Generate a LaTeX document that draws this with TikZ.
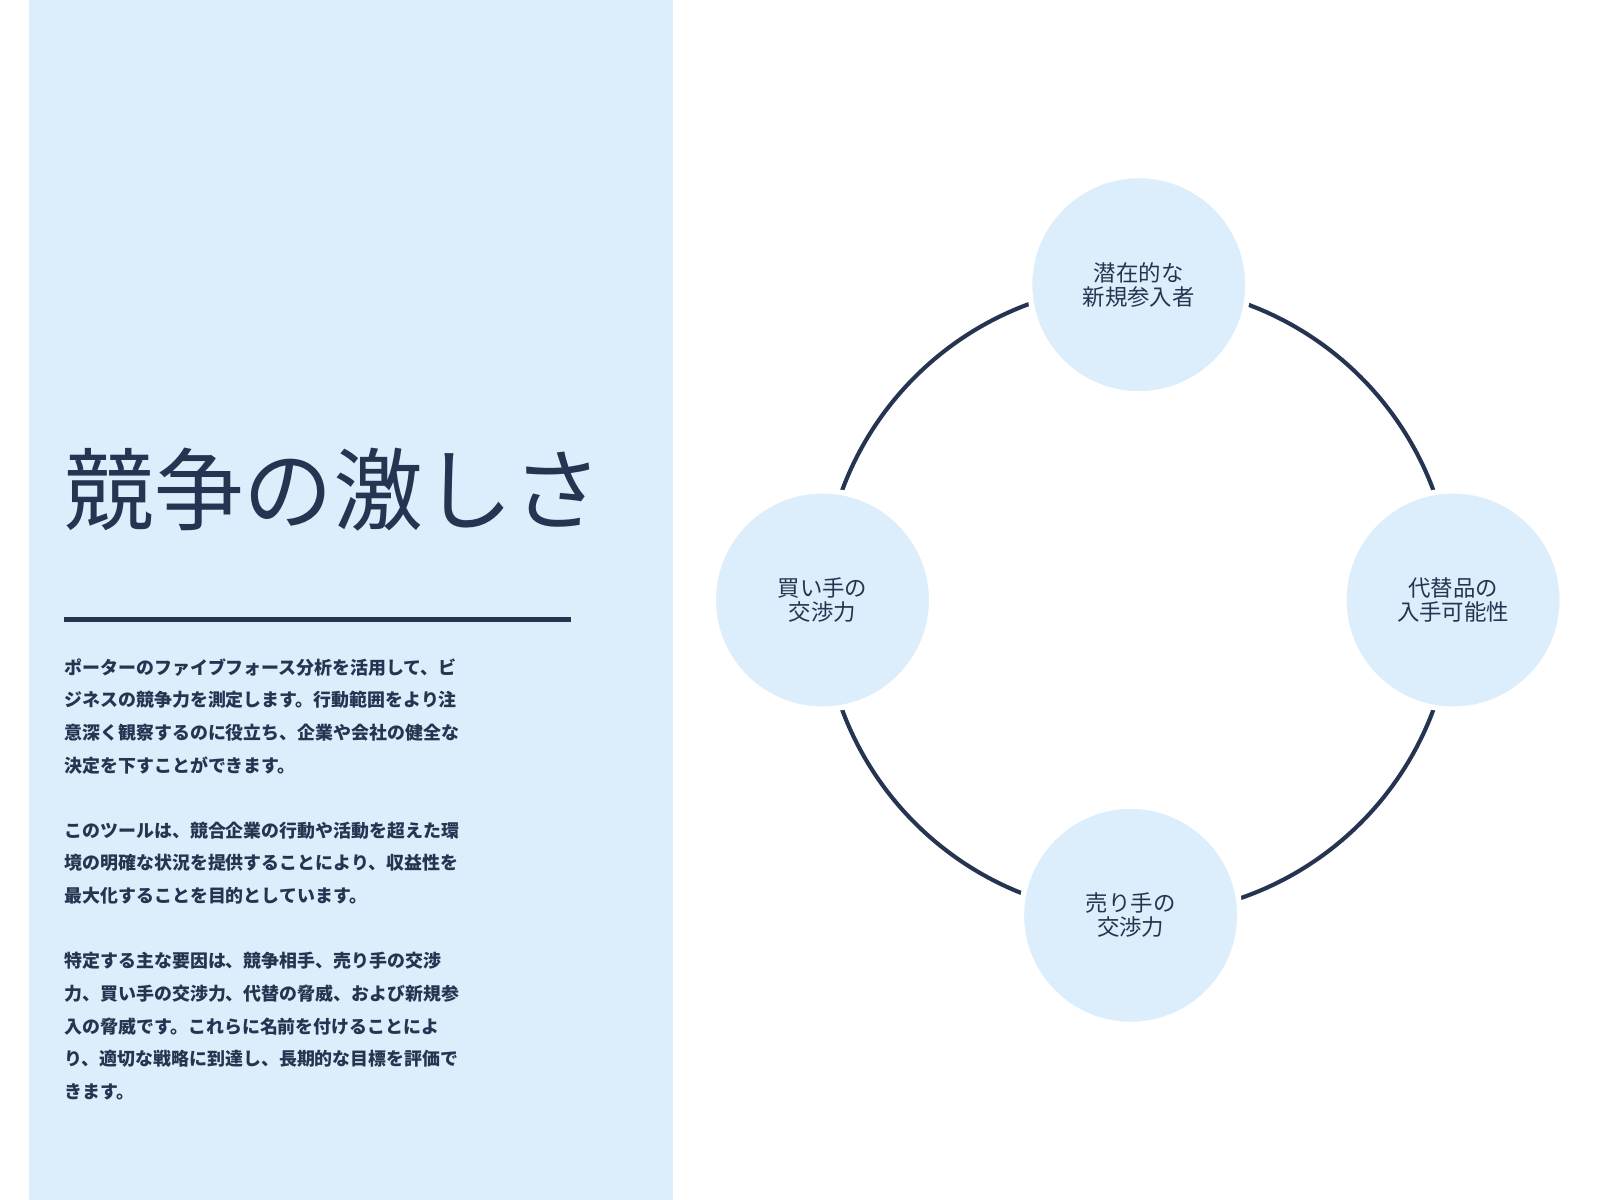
\documentclass[tikz,border=0pt]{standalone}
\usepackage{fontspec}
\setmainfont{Noto Sans CJK JP}
\usepackage{xcolor}
\definecolor{navy}{HTML}{253551}
\definecolor{paleblue}{HTML}{DCEEFB}
\begin{document}
\begin{tikzpicture}[x=0.02cm,y=-0.02cm,
    force/.style={circle,fill=paleblue,draw=white,line width=3pt,minimum size=4.28cm,
      inner sep=0pt,align=center,text=navy,font=\fontsize{12.5}{13.5}\selectfont},
    body/.style={anchor=north west,align=left,text=navy,inner sep=0pt,
      font=\bfseries\fontsize{10}{18.2}\selectfont}]
    \useasboundingbox (0,0) rectangle (1568,1176);
    \fill [paleblue] (28,0) rectangle (660,1176);

    \path (63,480) node [anchor=west,inner sep=0pt,text=navy,
      font=\fontsize{50}{50}\selectfont] (title) {競争の激しさ};
    \draw [navy,line width=2.6pt] (63,607) -- (560,607);

    \path (63,645) node [body] (p1) {ポーターのファイブフォース分析を活用して、ビ\\
      ジネスの競争力を測定します。行動範囲をより注\\
      意深く観察するのに役立ち、企業や会社の健全な\\
      決定を下すことができます。};
    \path (63,805) node [body] (p2) {このツールは、競合企業の行動や活動を超えた環\\
      境の明確な状況を提供することにより、収益性を\\
      最大化することを目的としています。};
    \path (63,933) node [body] (p3) {特定する主な要因は、競争相手、売り手の交渉\\
      力、買い手の交渉力、代替の脅威、および新規参\\
      入の脅威です。これらに名前を付けることによ\\
      り、適切な戦略に到達し、長期的な目標を評価で\\
      きます。};

    % ring of forces
    \draw [navy,line width=2.3pt] (1115,588) circle [radius=6.18cm];
    \path (1116,279) node [force] (entry) {潜在的な\\新規参入者};
    \path (806,588) node [force] (buyer) {買い手の\\交渉力};
    \path (1424,588) node [force] (subst) {代替品の\\入手可能性};
    \path (1108,897) node [force] (seller) {売り手の\\交渉力};
\end{tikzpicture}
\end{document}
